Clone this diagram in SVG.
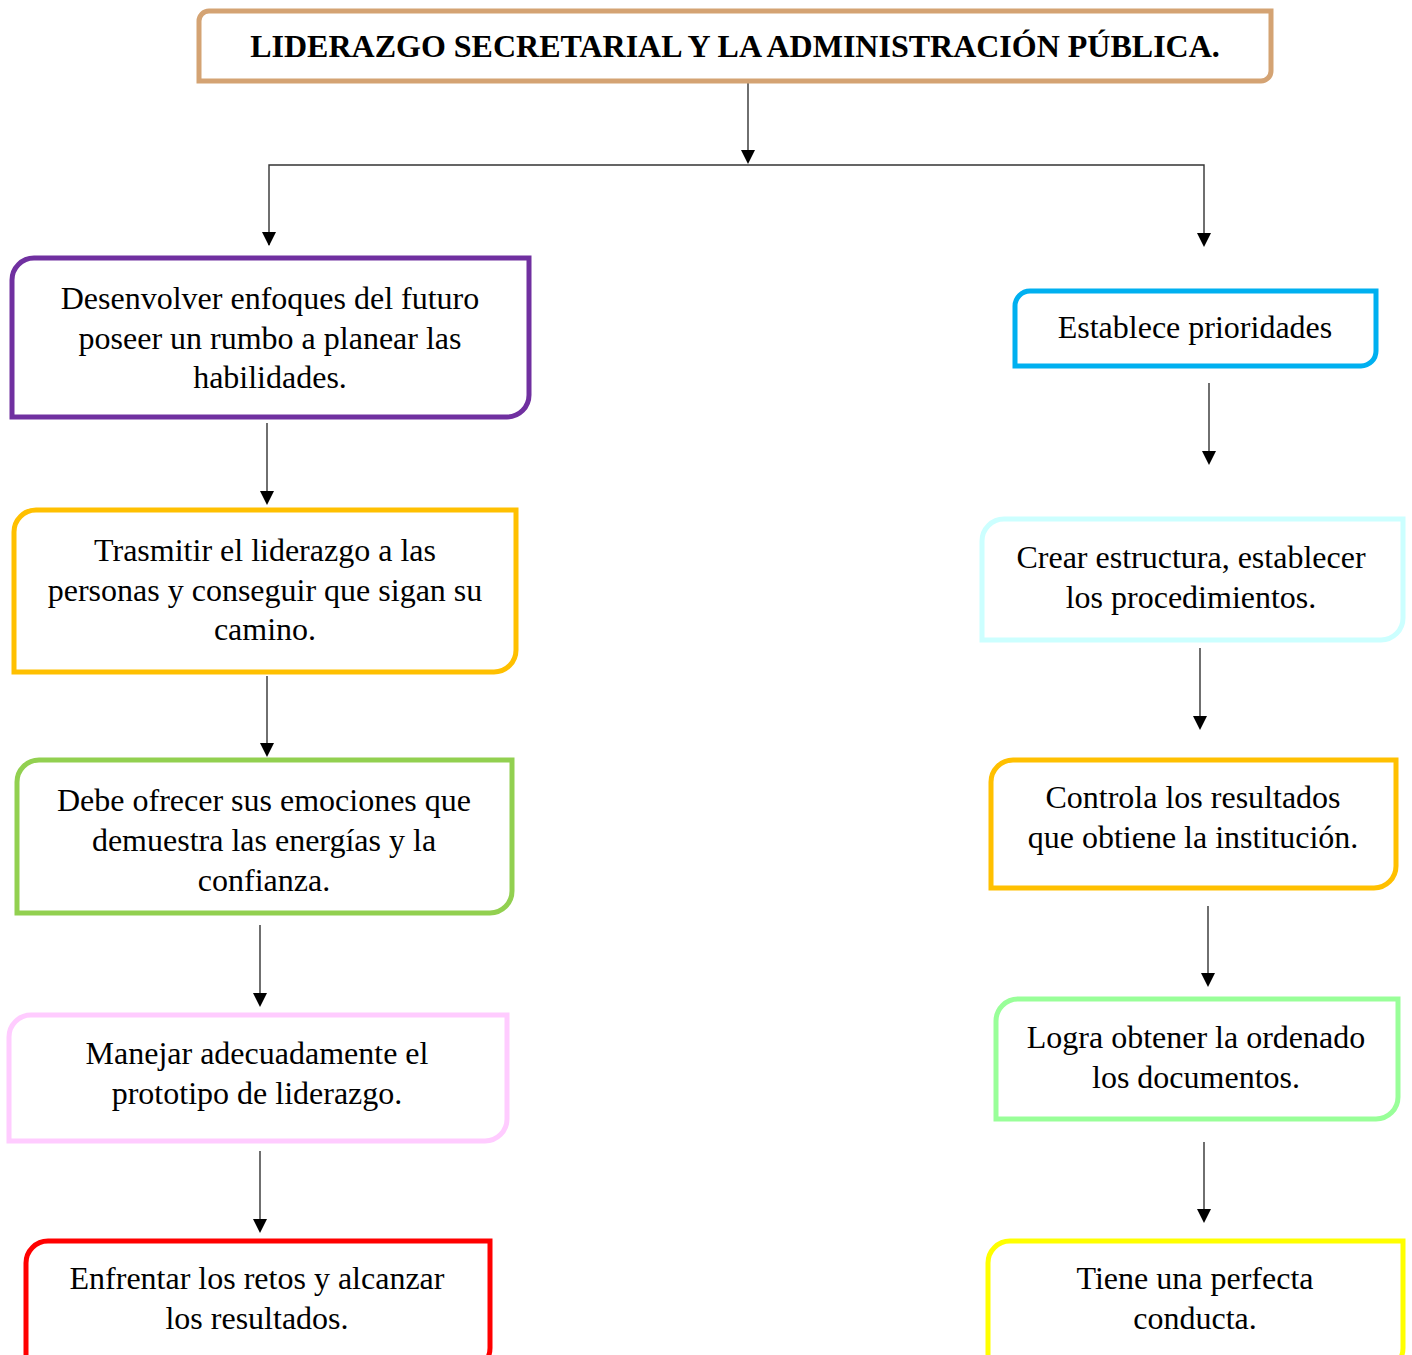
<svg xmlns="http://www.w3.org/2000/svg" width="1412" height="1355" viewBox="0 0 1412 1355">
<style>
.box{fill:#fff;stroke-width:5}
.t{font-family:"Liberation Serif","Times New Roman",serif;font-size:32px;fill:#000;text-anchor:middle}
.title{font-family:"Liberation Serif","Times New Roman",serif;font-size:32px;font-weight:bold;fill:#000;text-anchor:middle}
.ln{stroke:#333;stroke-width:1.4;fill:none}
</style>
<rect width="1412" height="1355" fill="#fff"/>
<g id="connectors">
<line class="ln" x1="748" y1="83" x2="748" y2="150"/>
<path d="M741,150 L755,150 L748,164 Z" fill="#000"/>
<polyline class="ln" points="269,245 269,165 1204,165 1204,233"/>
<path d="M262,232 L276,232 L269,246 Z" fill="#000"/>
<path d="M1197,233 L1211,233 L1204,247 Z" fill="#000"/>
<line class="ln" x1="267" y1="423" x2="267" y2="491"/>
<path d="M260,491 L274,491 L267,505 Z" fill="#000"/>
<line class="ln" x1="267" y1="676" x2="267" y2="743"/>
<path d="M260,743 L274,743 L267,757 Z" fill="#000"/>
<line class="ln" x1="260" y1="925" x2="260" y2="993"/>
<path d="M253,993 L267,993 L260,1007 Z" fill="#000"/>
<line class="ln" x1="260" y1="1151" x2="260" y2="1219"/>
<path d="M253,1219 L267,1219 L260,1233 Z" fill="#000"/>
<line class="ln" x1="1209" y1="383" x2="1209" y2="451"/>
<path d="M1202,451 L1216,451 L1209,465 Z" fill="#000"/>
<line class="ln" x1="1200" y1="648" x2="1200" y2="716"/>
<path d="M1193,716 L1207,716 L1200,730 Z" fill="#000"/>
<line class="ln" x1="1208" y1="906" x2="1208" y2="973"/>
<path d="M1201,973 L1215,973 L1208,987 Z" fill="#000"/>
<line class="ln" x1="1204" y1="1142" x2="1204" y2="1209"/>
<path d="M1197,1209 L1211,1209 L1204,1223 Z" fill="#000"/>
</g>
<g id="title">
<path class="box" stroke="#D4A373" d="M209,11 H1271 V71 A10,10 0 0 1 1261,81 H199 V21 A10,10 0 0 1 209,11 Z"/>
<text class="title" x="735" y="57">LIDERAZGO SECRETARIAL Y LA ADMINISTRACIÓN PÚBLICA.</text>
</g>
<g id="n1">
<path class="box" stroke="#7030A0" d="M34,258 H529 V395 A22,22 0 0 1 507,417 H12 V280 A22,22 0 0 1 34,258 Z"/>
<text class="t" x="270" y="309">Desenvolver enfoques del futuro</text>
<text class="t" x="270" y="349">poseer un rumbo a planear las</text>
<text class="t" x="270" y="388">habilidades.</text>
</g>
<g id="n2">
<path class="box" stroke="#FFC000" d="M36,510 H516 V650 A22,22 0 0 1 494,672 H14 V532 A22,22 0 0 1 36,510 Z"/>
<text class="t" x="265" y="561">Trasmitir el liderazgo a las</text>
<text class="t" x="265" y="601">personas y conseguir que sigan su</text>
<text class="t" x="265" y="640">camino.</text>
</g>
<g id="n3">
<path class="box" stroke="#92D050" d="M39,760 H512 V891 A22,22 0 0 1 490,913 H17 V782 A22,22 0 0 1 39,760 Z"/>
<text class="t" x="264" y="811">Debe ofrecer sus emociones que</text>
<text class="t" x="264" y="851">demuestra las energías y la</text>
<text class="t" x="264" y="891">confianza.</text>
</g>
<g id="n4">
<path class="box" stroke="#FFCCFF" d="M31,1015 H507 V1119 A22,22 0 0 1 485,1141 H9 V1037 A22,22 0 0 1 31,1015 Z"/>
<text class="t" x="257" y="1064">Manejar adecuadamente el</text>
<text class="t" x="257" y="1104">prototipo de liderazgo.</text>
</g>
<g id="n5">
<path class="box" stroke="#FF0000" d="M48,1241 H490 V1348 A22,22 0 0 1 468,1370 H26 V1263 A22,22 0 0 1 48,1241 Z"/>
<text class="t" x="257" y="1289">Enfrentar los retos y alcanzar</text>
<text class="t" x="257" y="1329">los resultados.</text>
</g>
<g id="r1">
<path class="box" stroke="#00B0F0" d="M1030,291 H1376 V351 A15,15 0 0 1 1361,366 H1015 V306 A15,15 0 0 1 1030,291 Z"/>
<text class="t" x="1195" y="338">Establece prioridades</text>
</g>
<g id="r2">
<path class="box" stroke="#CCFFFF" d="M1004,519 H1403 V618 A22,22 0 0 1 1381,640 H982 V541 A22,22 0 0 1 1004,519 Z"/>
<text class="t" x="1191" y="568">Crear estructura, establecer</text>
<text class="t" x="1191" y="608">los procedimientos.</text>
</g>
<g id="r3">
<path class="box" stroke="#FFC000" d="M1013,760 H1396 V866 A22,22 0 0 1 1374,888 H991 V782 A22,22 0 0 1 1013,760 Z"/>
<text class="t" x="1193" y="808">Controla los resultados</text>
<text class="t" x="1193" y="848">que obtiene la institución.</text>
</g>
<g id="r4">
<path class="box" stroke="#99FF99" d="M1018,999 H1398 V1097 A22,22 0 0 1 1376,1119 H996 V1021 A22,22 0 0 1 1018,999 Z"/>
<text class="t" x="1196" y="1048">Logra obtener la ordenado</text>
<text class="t" x="1196" y="1088">los documentos.</text>
</g>
<g id="r5">
<path class="box" stroke="#FFFF00" d="M1010,1241 H1403 V1348 A22,22 0 0 1 1381,1370 H988 V1263 A22,22 0 0 1 1010,1241 Z"/>
<text class="t" x="1195" y="1289">Tiene una perfecta</text>
<text class="t" x="1195" y="1329">conducta.</text>
</g>
</svg>
